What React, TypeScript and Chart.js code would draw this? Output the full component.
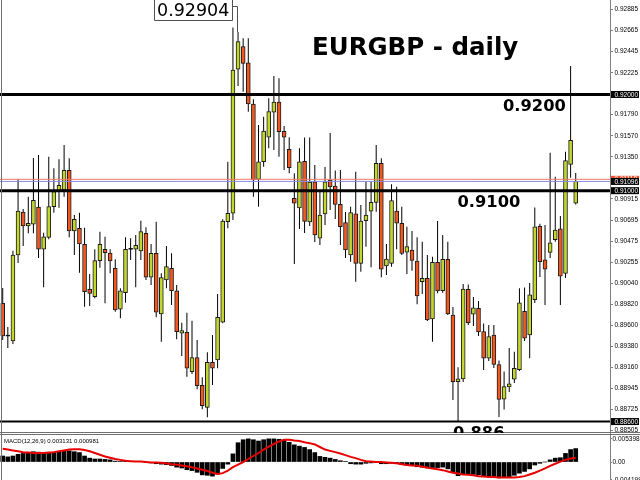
import React, { useEffect, useRef } from 'react';
import { Chart, registerables } from 'chart.js';

Chart.register(...registerables);

// ---------- data ----------
const opens = [
  0.8983, 0.8949, 0.89438, 0.90331, 0.90778, 0.90633, 0.90651, 0.9083, 0.90391, 0.90515,
  0.90834, 0.9099, 0.91007, 0.91212, 0.90581, 0.90609, 0.90443, 0.89975, 0.89898, 0.90272,
  0.90391, 0.90352, 0.90193, 0.89767, 0.8994, 0.90391, 0.90391, 0.90373, 0.90557, 0.901,
  0.90349, 0.89718, 0.90072, 0.90193, 0.8996, 0.89518, 0.89528, 0.89119, 0.89264, 0.88977,
  0.88748, 0.89216, 0.8924, 0.89632, 0.90678, 0.90765, 0.92262, 0.92497, 0.9233, 0.91901,
  0.91118, 0.91301, 0.91555, 0.91815, 0.91922, 0.91617, 0.9143, 0.90921, 0.9082, 0.91305,
  0.90674, 0.91093, 0.90505, 0.90758, 0.91111, 0.91049, 0.90858, 0.90667, 0.90331, 0.90758,
  0.90245, 0.90688, 0.90786, 0.90879, 0.91285, 0.90217, 0.90245, 0.90789, 0.90661, 0.9036,
  0.90383, 0.90269, 0.90054, 0.90089, 0.89666, 0.90256, 0.8996, 0.90287, 0.89708, 0.89015,
  0.89043, 0.89975, 0.89716, 0.89778, 0.89534, 0.89258, 0.895, 0.89191, 0.88832, 0.8896,
  0.8904, 0.89139, 0.89747, 0.895, 0.89867, 0.90629, 0.9028, 0.90358, 0.90491, 0.90604,
  0.90141, 0.91274, 0.90869,
];
const highs = [
  0.89989, 0.89583, 0.90376, 0.91121, 0.9081, 0.90937, 0.9134, 0.91371, 0.90563, 0.91353,
  0.91233, 0.91326, 0.91475, 0.91337, 0.90747, 0.90771, 0.90615, 0.90134, 0.90391, 0.90574,
  0.90522, 0.90391, 0.90287, 0.89985, 0.90515, 0.90505, 0.90539, 0.90688, 0.90619, 0.90446,
  0.90678, 0.90141, 0.90425, 0.90349, 0.9002, 0.89628, 0.89732, 0.89649, 0.89448, 0.8906,
  0.8932, 0.895, 0.89926, 0.90703, 0.91301, 0.92696, 0.92649, 0.92584, 0.92584, 0.9195,
  0.91683, 0.91769, 0.9196, 0.92192, 0.92168, 0.91672, 0.91555, 0.91181, 0.91441, 0.91553,
  0.91553, 0.91267, 0.91007, 0.91246, 0.916, 0.9121, 0.91215, 0.90778, 0.90834, 0.91197,
  0.90851, 0.91093, 0.91093, 0.91475, 0.91337, 0.90446, 0.91066, 0.91041, 0.90834, 0.90626,
  0.90581, 0.90515, 0.9047, 0.90331, 0.90314, 0.90685, 0.90539, 0.9047, 0.89791, 0.89164,
  0.9003, 0.90025, 0.89895, 0.89853, 0.8962, 0.89604, 0.89604, 0.89235, 0.89119, 0.89365,
  0.89326, 0.89985, 0.89994, 0.9004, 0.90825, 0.90657, 0.90643, 0.91395, 0.91145, 0.90737,
  0.91405, 0.92296, 0.91184,
];
const lows = [
  0.89448, 0.89365, 0.89406, 0.90248, 0.90425, 0.90557, 0.90557, 0.903, 0.89996, 0.90495,
  0.90771, 0.90823, 0.90937, 0.90515, 0.90331, 0.90148, 0.89794, 0.89801, 0.89881, 0.902,
  0.8983, 0.90141, 0.89742, 0.89674, 0.89836, 0.9028, 0.89996, 0.9028, 0.90072, 0.9002,
  0.89684, 0.8943, 0.89985, 0.89812, 0.89455, 0.89282, 0.89067, 0.89095, 0.88936, 0.88728,
  0.88645, 0.8898, 0.89154, 0.89622, 0.90609, 0.90695, 0.92088, 0.92029, 0.91821, 0.90937,
  0.90834, 0.91249, 0.91441, 0.91423, 0.91353, 0.91215, 0.91181, 0.90238, 0.90602, 0.9056,
  0.90633, 0.90467, 0.90435, 0.90643, 0.90799, 0.90706, 0.90435, 0.903, 0.90262, 0.90054,
  0.90158, 0.90418, 0.90204, 0.90782, 0.901, 0.90124, 0.9021, 0.90391, 0.90331, 0.90134,
  0.90168, 0.89819, 0.89926, 0.89645, 0.8943, 0.89933, 0.8994, 0.89708, 0.88824, 0.88606,
  0.89011, 0.89604, 0.89594, 0.8949, 0.89136, 0.8923, 0.89157, 0.88648, 0.88725, 0.88908,
  0.89001, 0.89126, 0.89438, 0.89258, 0.89833, 0.90103, 0.89812, 0.903, 0.9047, 0.89812,
  0.90092, 0.91134, 0.90856,
];
const closes = [
  0.8949, 0.89488, 0.90331, 0.90789, 0.90633, 0.90661, 0.909, 0.90391, 0.90519, 0.90834,
  0.9099, 0.91056, 0.91212, 0.90581, 0.90703, 0.90446, 0.8995, 0.89933, 0.90272, 0.90443,
  0.90355, 0.90269, 0.8976, 0.8996, 0.90391, 0.90389, 0.90432, 0.90574, 0.901, 0.90349,
  0.89736, 0.90096, 0.9021, 0.8996, 0.89534, 0.89545, 0.89154, 0.89264, 0.88973, 0.88765,
  0.89216, 0.89154, 0.89684, 0.90685, 0.90765, 0.92254, 0.92549, 0.92324, 0.91901, 0.91111,
  0.91301, 0.9162, 0.91821, 0.91922, 0.91613, 0.91555, 0.91239, 0.90869, 0.91301, 0.9068,
  0.9109, 0.90539, 0.90747, 0.91093, 0.91038, 0.90858, 0.90626, 0.90383, 0.90771, 0.90245,
  0.90685, 0.90747, 0.90879, 0.91285, 0.90183, 0.9029, 0.90896, 0.90661, 0.90349, 0.90418,
  0.90274, 0.89905, 0.90089, 0.89656, 0.90256, 0.89957, 0.90287, 0.89718, 0.89015, 0.89043,
  0.89978, 0.89628, 0.89781, 0.89531, 0.89258, 0.89484, 0.89193, 0.88829, 0.88963, 0.88991,
  0.89154, 0.89833, 0.89466, 0.89916, 0.90623, 0.90262, 0.90183, 0.90459, 0.90591, 0.9011,
  0.91312, 0.91524, 0.91096,
];
const macdHist = [
  0.0014, 0.0012, 0.0014, 0.0018, 0.002, 0.0021, 0.0024, 0.0023, 0.0021, 0.0022,
  0.0023, 0.0024, 0.0027, 0.0026, 0.0024, 0.0022, 0.0014, 0.0009, 0.0007, 0.0007,
  0.0006, 0.0005, 0.0002, 0.0001, 0.0002, 0.0001, 0.0001, 0.0001, -0.0001, -0.0002,
  -0.0004, -0.0005, -0.0006, -0.0008, -0.0012, -0.0014, -0.0018, -0.002, -0.0024, -0.003,
  -0.0031, -0.0033, -0.0028, -0.0015, -0.0005, 0.0019, 0.0045, 0.0052, 0.0054, 0.0052,
  0.0049, 0.0052, 0.0054, 0.0054, 0.0053, 0.0051, 0.0046, 0.004, 0.0037, 0.0034,
  0.0029, 0.0022, 0.0013, 0.0011, 0.0009, 0.0006, 0.0003, 0.0001, -0.0004, -0.0005,
  -0.0005, -0.0003, -0.0002, -0.0001, -0.0004, -0.0004, -0.0003, -0.0004, -0.0006, -0.0007,
  -0.0008, -0.0011, -0.0012, -0.0014, -0.0013, -0.0013, -0.0012, -0.0016, -0.0024, -0.0032,
  -0.0028, -0.0028, -0.0029, -0.003, -0.0033, -0.0033, -0.0034, -0.0037, -0.0036, -0.0034,
  -0.0031, -0.0026, -0.0022, -0.0016, -0.0007, -0.0003, 0.0, 0.0005, 0.0009, 0.001,
  0.002, 0.0029, 0.003131,
];
const macdSignal = [
  0.0031, 0.0029, 0.0027, 0.0025, 0.0023, 0.0022, 0.0021, 0.0021, 0.0021, 0.0022,
  0.0023, 0.0025, 0.0027, 0.0029, 0.003, 0.003, 0.0028, 0.0025, 0.0021, 0.0017,
  0.0013, 0.001, 0.0007, 0.0005, 0.0003, 0.0002, 0.0001, 0.0001, 0.0, -0.0001,
  -0.0001, -0.0002, -0.0003, -0.0005, -0.0006, -0.0008, -0.001, -0.0012, -0.0015, -0.0018,
  -0.0021, -0.0025, -0.0028, -0.0026, -0.002, -0.0012, -0.0006, 0.0, 0.0007, 0.0014,
  0.0021, 0.0029, 0.0036, 0.0042, 0.0048, 0.0052, 0.0052, 0.005, 0.0049, 0.0046,
  0.0044, 0.0041, 0.0035, 0.0029, 0.0026, 0.0023, 0.002, 0.0016, 0.0012, 0.0009,
  0.0005, 0.0002, 0.0001, 0.0, 0.0, -0.0001, -0.0002, -0.0003, -0.0005, -0.0007,
  -0.0008, -0.0009, -0.0011, -0.0013, -0.0015, -0.0017, -0.0019, -0.0022, -0.0025, -0.0027,
  -0.0029, -0.003, -0.0031, -0.0033, -0.0034, -0.0035, -0.0035, -0.0036, -0.0036, -0.0036,
  -0.0036, -0.0035, -0.0033, -0.0029, -0.0025, -0.002, -0.0015, -0.0009, -0.0004, 0.0001,
  0.0005, 0.0008, 0.000981,
];
const priceTicks = [
  0.92885, 0.92665, 0.92445, 0.92225, 0.9179, 0.9157, 0.9135, 0.90915, 0.90695, 0.90475,
  0.90255, 0.9004, 0.8982, 0.896, 0.8938, 0.8916, 0.88945, 0.88725, 0.88505,
];
const macdTicks = [0.005398, 0, -0.004199];
const macdTickLabels = ['0.005398', '0.00', '-0.004199'];
const levelLines = [0.92, 0.91, 0.886];
const levelTexts = ['0.9200', '0.9100', '0.886'];
const levelAxisLabels = ['0.92000', '0.91000', '0.88600'];
const bidPrice = 0.91096;
const askPrice = 0.91118;
const highLabel = '0.92904';
const titleText = 'EURGBP - daily';
const macdText = 'MACD(12,26,9) 0.003131 0.000981';

// ---------- layout / style ----------
const W = 640;
const MAIN_H = 433;
const MACD_H = 47;
const X_MIN = -0.53;
const X_MAX = 118.7;
const PRICE_MIN = 0.88481;
const PRICE_MAX = 0.92982;
const MACD_MIN = -0.0042;
const MACD_MAX = 0.00677;
const BULL = '#c2d62c';
const BEAR = '#f2581e';
const AXIS_FONT = { family: 'Liberation Sans, Arial, sans-serif', size: 6.5 };
const levelTextX = [503, 457.5, 453];
const levelWidths = [3, 3, 2];

const idx = opens.map((_, i) => i);

function fixAxis(scale: any) {
  scale.width = W - 610;
  scale.paddingTop = 0;
  scale.paddingBottom = 0;
}

const mainOverlay = {
  id: 'mainOverlay',
  afterDraw(chart: any) {
    const { ctx, chartArea, scales } = chart;
    const y = scales.y;
    const x = scales.x;
    ctx.save();
    ctx.strokeStyle = '#707070';
    ctx.lineWidth = 1;
    ctx.beginPath();
    ctx.moveTo(1.5, 0);
    ctx.lineTo(1.5, chartArea.bottom);
    ctx.moveTo(0, chartArea.bottom - 0.5);
    ctx.lineTo(W, chartArea.bottom - 0.5);
    ctx.stroke();

    ctx.fillStyle = '#000';
    ctx.textBaseline = 'alphabetic';
    ctx.textAlign = 'left';
    ctx.font = 'bold 24.5px "DejaVu Sans"';
    ctx.fillText(titleText, 312, 55);

    ctx.font = 'bold 16.3px "DejaVu Sans"';
    levelLines.forEach((lv, i) => {
      ctx.fillText(levelTexts[i], levelTextX[i], y.getPixelForValue(lv) + 16.3);
    });

    // high label with connector
    const hx = Math.round(x.getPixelForValue(46)) - 0.5;
    const hy = y.getPixelForValue(highs[46]);
    ctx.fillStyle = '#fff';
    ctx.fillRect(155, 0, 77, 20);
    ctx.strokeStyle = '#505050';
    ctx.beginPath();
    ctx.rect(154.5, -0.5, 78, 21);
    ctx.moveTo(232.5, 6.5);
    ctx.lineTo(hx, 6.5);
    ctx.lineTo(hx, hy);
    ctx.stroke();
    ctx.fillStyle = '#000';
    ctx.font = '17.5px "DejaVu Sans"';
    ctx.fillText(highLabel, 157, 15.5);

    // axis price boxes
    const box = (value: number, text: string, bg: string) => {
      const py = y.getPixelForValue(value);
      ctx.fillStyle = bg;
      ctx.fillRect(611, py - 3.5, 28, 7);
      ctx.fillStyle = '#fff';
      ctx.font = '6.5px "Liberation Sans"';
      ctx.textBaseline = 'middle';
      ctx.fillText(text, 614.5, py + 0.3);
    };
    levelLines.forEach((lv, i) => box(lv, levelAxisLabels[i], '#000'));
    box(askPrice, askPrice.toFixed(5), '#f0502a');
    box(bidPrice, bidPrice.toFixed(5), '#000');
    ctx.restore();
  },
};

const macdOverlay = {
  id: 'macdOverlay',
  afterDraw(chart: any) {
    const { ctx, chartArea } = chart;
    ctx.save();
    ctx.strokeStyle = '#707070';
    ctx.lineWidth = 1;
    ctx.beginPath();
    ctx.moveTo(0, 1.5);
    ctx.lineTo(W, 1.5);
    ctx.moveTo(1.5, 0);
    ctx.lineTo(1.5, chartArea.bottom);
    ctx.stroke();
    ctx.fillStyle = '#000';
    ctx.font = '6px "Liberation Sans"';
    ctx.textBaseline = 'middle';
    ctx.fillText(macdText, 4, 8);
    ctx.restore();
  },
};

function hLine(value: number, color: string, width: number) {
  return {
    type: 'line' as const,
    data: [
      { x: X_MIN, y: value },
      { x: X_MAX, y: value },
    ],
    borderColor: color,
    borderWidth: width,
    pointRadius: 0,
    order: 0,
  };
}

export default function App() {
  const mainRef = useRef<HTMLCanvasElement>(null);
  const macdRef = useRef<HTMLCanvasElement>(null);

  useEffect(() => {
    const mainChart = new Chart(mainRef.current as HTMLCanvasElement, {
      type: 'bar',
      data: {
        datasets: [
          ...levelLines.map((lv, i) => hLine(lv, '#000', levelWidths[i])),
          hLine(askPrice, '#f07a68', 1),
          hLine(bidPrice, '#8a8ae6', 1),
          {
            type: 'bar',
            data: idx.map((i) => ({ x: i, y: [opens[i], closes[i]] })),
            backgroundColor: (c: any) => {
              const i = c.dataIndex;
              if (Math.abs(closes[i] - opens[i]) < 0.00005) return '#000';
              return closes[i] > opens[i] ? BULL : BEAR;
            },
            borderColor: '#1a1a1a',
            borderWidth: 1,
            borderSkipped: false,
            barThickness: 4,
            minBarLength: 1,
            grouped: false,
            order: 1,
          } as any,
          {
            type: 'bar',
            data: idx.map((i) => ({ x: i, y: [lows[i], highs[i]] })),
            backgroundColor: '#000',
            borderWidth: 0,
            barThickness: 1,
            inflateAmount: 0,
            grouped: false,
            order: 2,
          } as any,
        ],
      },
      options: {
        animation: false,
        responsive: false,
        maintainAspectRatio: false,
        events: [],
        layout: { padding: 0 },
        plugins: { legend: { display: false }, tooltip: { enabled: false } },
        scales: {
          x: { type: 'linear', min: X_MIN, max: X_MAX, display: false, offset: false },
          y: {
            position: 'right',
            min: PRICE_MIN,
            max: PRICE_MAX,
            beginAtZero: false,
            afterBuildTicks: (s: any) => {
              s.ticks = priceTicks.map((v) => ({ value: v }));
            },
            afterFit: fixAxis,
            ticks: {
              autoSkip: false,
              maxRotation: 0,
              padding: 1.5,
              color: '#000',
              font: AXIS_FONT,
              callback: (v: any) => Number(v).toFixed(5),
            },
            grid: { drawOnChartArea: false, drawTicks: true, tickLength: 3, color: '#808080' },
            border: { display: true, color: '#808080', width: 1 },
          },
        },
      } as any,
      plugins: [mainOverlay],
    });

    const macdChart = new Chart(macdRef.current as HTMLCanvasElement, {
      type: 'bar',
      data: {
        datasets: [
          {
            type: 'line',
            data: idx.map((i) => ({ x: i, y: macdSignal[i] })),
            borderColor: '#e80000',
            borderWidth: 2,
            pointRadius: 0,
            tension: 0,
            order: 0,
          } as any,
          {
            type: 'bar',
            data: idx.map((i) => ({ x: i, y: macdHist[i] })),
            backgroundColor: '#000',
            borderWidth: 0,
            barThickness: 4,
            grouped: false,
            order: 1,
          } as any,
        ],
      },
      options: {
        animation: false,
        responsive: false,
        maintainAspectRatio: false,
        events: [],
        layout: { padding: 0 },
        plugins: { legend: { display: false }, tooltip: { enabled: false } },
        scales: {
          x: { type: 'linear', min: X_MIN, max: X_MAX, display: false, offset: false },
          y: {
            position: 'right',
            min: MACD_MIN,
            max: MACD_MAX,
            beginAtZero: false,
            afterBuildTicks: (s: any) => {
              s.ticks = macdTicks.map((v) => ({ value: v }));
            },
            afterFit: fixAxis,
            ticks: {
              autoSkip: false,
              maxRotation: 0,
              padding: 0.5,
              color: '#000',
              font: AXIS_FONT,
              callback: (v: any) => {
                const k = macdTicks.indexOf(Number(v));
                return k >= 0 ? macdTickLabels[k] : '';
              },
            },
            grid: { drawOnChartArea: false, drawTicks: true, tickLength: 2, color: '#808080' },
            border: { display: true, color: '#808080', width: 1 },
          },
        },
      } as any,
      plugins: [macdOverlay],
    });

    return () => {
      mainChart.destroy();
      macdChart.destroy();
    };
  }, []);

  return (
    <div style={{ position: 'absolute', left: 0, top: 0, width: W, height: MAIN_H + MACD_H, background: '#fff' }}>
      <canvas ref={mainRef} width={W} height={MAIN_H} style={{ position: 'absolute', left: 0, top: 0, width: W, height: MAIN_H }} />
      <canvas ref={macdRef} width={W} height={MACD_H} style={{ position: 'absolute', left: 0, top: MAIN_H, width: W, height: MACD_H }} />
    </div>
  );
}
